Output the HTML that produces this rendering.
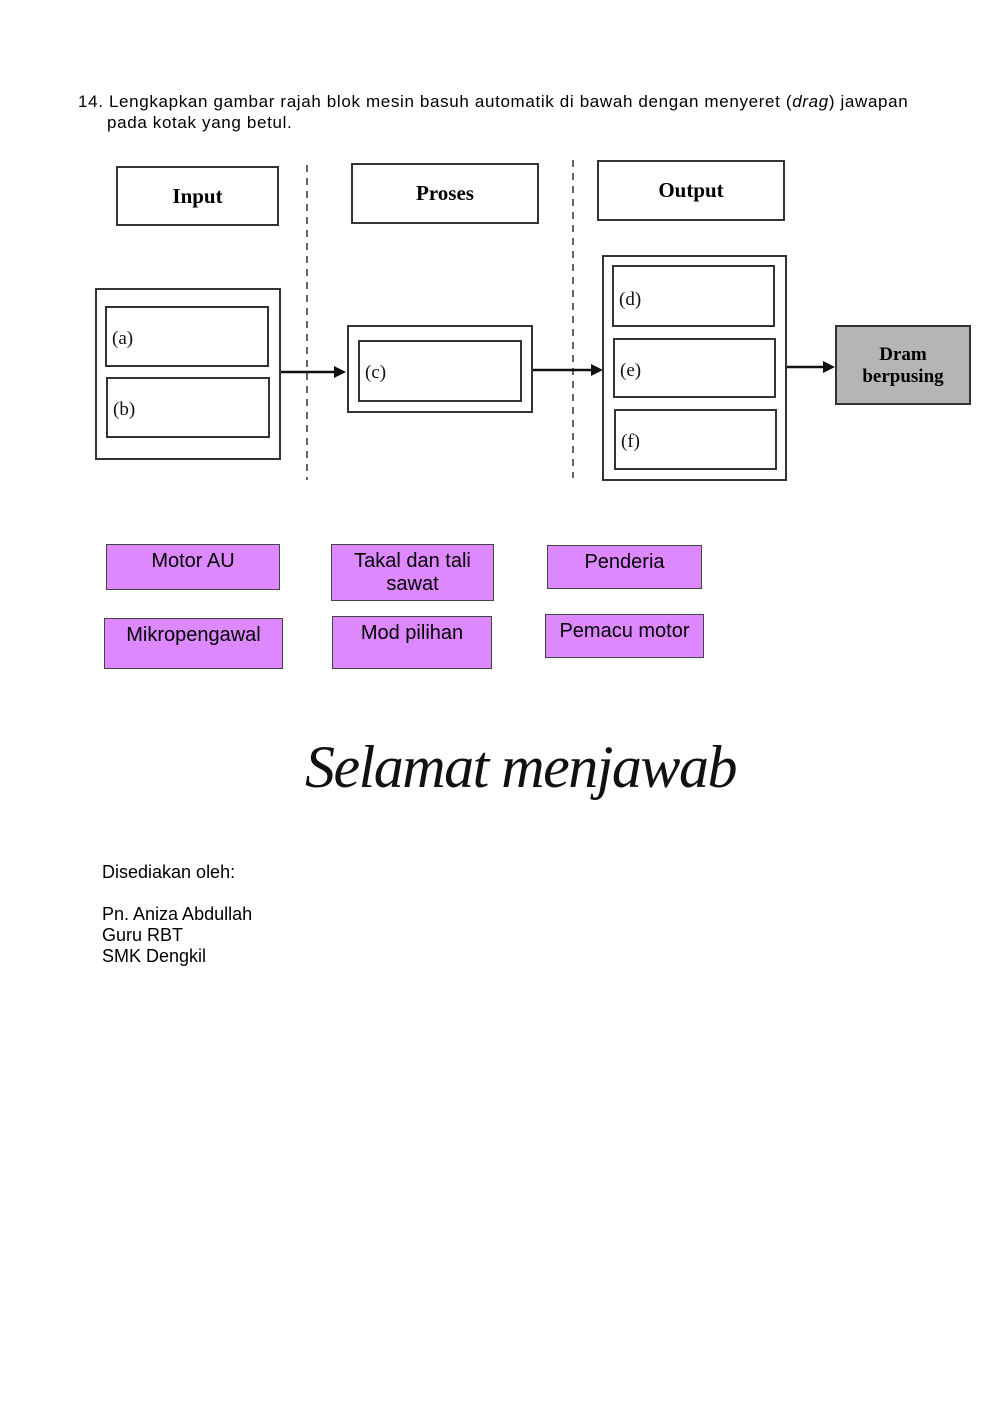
<!DOCTYPE html>
<html><head><style>
body{margin:0;width:1000px;height:1413px;background:#fff;position:relative;font-family:"Liberation Sans",sans-serif;overflow:hidden}
.a{position:absolute}
.b{position:absolute;border:2px solid #333;box-sizing:border-box;background:#fff}
.s{font-family:"Liberation Serif",serif;font-size:19px;color:#111}
.h{font-family:"Liberation Serif",serif;font-weight:bold;font-size:21px;display:flex;align-items:center;justify-content:center}
.p{position:absolute;background:#dd88ff;border:1px solid #444;box-sizing:border-box;font-size:20px;text-align:center;line-height:23px;padding-top:6px;color:#000}
.t{font-size:16px;color:#000}
</style></head><body>
<div class="a t" style="left:78px;top:91px;line-height:21px;font-size:17px;letter-spacing:0.65px;white-space:nowrap">14. Lengkapkan gambar rajah blok mesin basuh automatik di bawah dengan menyeret (<i>drag</i>) jawapan<br><span style="padding-left:29px">pada kotak yang betul.</span></div>

<div class="b h" style="left:116px;top:166px;width:163px;height:60px">Input</div>
<div class="b h" style="left:351px;top:163px;width:188px;height:61px">Proses</div>
<div class="b h" style="left:597px;top:160px;width:188px;height:61px">Output</div>

<svg class="a" style="left:0;top:0" width="1000" height="500">
<line x1="307" y1="165" x2="307" y2="480" stroke="#333" stroke-width="1.5" stroke-dasharray="7,6"/>
<line x1="573" y1="160" x2="573" y2="478" stroke="#333" stroke-width="1.5" stroke-dasharray="7,6"/>
<g stroke="#111" stroke-width="2.5"><line x1="281" y1="372" x2="336" y2="372"/><line x1="533" y1="370" x2="593" y2="370"/><line x1="787" y1="367" x2="825" y2="367"/></g>
<g fill="#111"><polygon points="346,372 334,366 334,378"/><polygon points="603,370 591,364 591,376"/><polygon points="835,367 823,361 823,373"/></g>
</svg>

<div class="b" style="left:95px;top:288px;width:186px;height:172px"></div>
<div class="b s" style="left:105px;top:306px;width:164px;height:61px;padding:20px 0 0 5px">(a)</div>
<div class="b s" style="left:106px;top:377px;width:164px;height:61px;padding:20px 0 0 5px">(b)</div>
<div class="b" style="left:347px;top:325px;width:186px;height:88px"></div>
<div class="b s" style="left:358px;top:340px;width:164px;height:62px;padding:20px 0 0 5px">(c)</div>
<div class="b" style="left:602px;top:255px;width:185px;height:226px"></div>
<div class="b s" style="left:612px;top:265px;width:163px;height:62px;padding:22px 0 0 5px">(d)</div>
<div class="b s" style="left:613px;top:338px;width:163px;height:60px;padding:20px 0 0 5px">(e)</div>
<div class="b s" style="left:614px;top:409px;width:163px;height:61px;padding:20px 0 0 5px">(f)</div>
<div class="b" style="left:835px;top:325px;width:136px;height:80px;background:#b5b5b5;font-family:'Liberation Serif',serif;font-weight:bold;font-size:19px;text-align:center;line-height:22px;padding-top:17px">Dram<br>berpusing</div>

<div class="p" style="left:106px;top:544px;width:174px;height:46px;padding-top:5px">Motor AU</div>
<div class="p" style="left:104px;top:618px;width:179px;height:51px;padding-top:5px">Mikropengawal</div>
<div class="p" style="left:331px;top:544px;width:163px;height:57px;padding-top:5px">Takal dan tali<br>sawat</div>
<div class="p" style="left:332px;top:616px;width:160px;height:53px;padding-top:5px">Mod pilihan</div>
<div class="p" style="left:547px;top:545px;width:155px;height:44px;padding-top:5px">Penderia</div>
<div class="p" style="left:545px;top:614px;width:159px;height:44px;padding-top:5px">Pemacu motor</div>

<div class="a" style="left:305px;top:733px;font-family:'Liberation Serif',serif;font-style:italic;font-size:60px;color:#111;letter-spacing:-1.5px">Selamat menjawab</div>

<div class="a t" style="left:102px;top:862px;font-size:18px;line-height:21px">Disediakan oleh:<br><br>Pn. Aniza Abdullah<br>Guru RBT<br>SMK Dengkil</div>
</body></html>
